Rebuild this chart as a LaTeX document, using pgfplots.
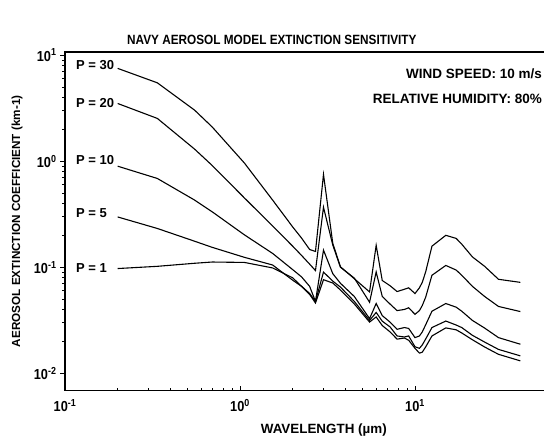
\documentclass[border=0pt]{standalone}
\usepackage{fontspec}
\setmainfont{Liberation Sans}
\newfontfamily\cond{Liberation Sans}[FakeStretch=0.88]
\usepackage{pgfplots}
\pgfplotsset{compat=1.18}

\pgfplotstableread{
x      p30    p20    p10    p5     p1
0.2    7.5    3.50   0.897  0.298  0.0972
0.3371 5.48   2.53   0.687  0.232  0.102
0.55   3.03   1.30   0.43   0.176  0.109
0.694  2.10   0.91   0.333  0.154  0.112
1.06   0.96   0.45   0.202  0.124  0.111
1.536  0.43   0.245  0.135  0.105  0.0985
2.0    0.24   0.158  0.095  0.0755 0.0795
2.25   0.188  0.129  0.081  0.066  0.066
2.5    0.147  0.107  0.066  0.0566 0.0555
2.7    0.141  0.093  0.0476 0.0476 0.046
3.0    0.75   0.368  0.145  0.090  0.0763
3.39   0.168  0.162  0.087  0.074  0.071
3.75   0.101  0.100  0.0706 0.065  0.061
4.5    0.078  0.079  0.053  0.0476 0.0451
5.5    0.0585 0.0468 0.0328 0.0315 0.0304
6.0    0.161  0.0903 0.0455 0.0375 0.034
6.5    0.075  0.053  0.035  0.031  0.0282
7.2    0.067  0.045  0.0304 0.0274 0.0246
7.9    0.059  0.039  0.026  0.0225 0.021
8.7    0.062  0.040  0.027  0.022  0.0215
9.2    0.064  0.0415 0.0265 0.0225 0.0205
10.0   0.0565 0.036  0.0217 0.0178 0.0172
10.6   0.064  0.039  0.0225 0.0172 0.0155
11.0   0.072  0.0435 0.0245 0.0185 0.0158
11.5   0.090  0.052  0.0286 0.021  0.0177
12.5   0.158  0.084  0.0385 0.027  0.0225
15.0   0.200  0.104  0.0455 0.0311 0.0268
17.2   0.187  0.094  0.042  0.0285 0.0257
18.5   0.165  0.084  0.0385 0.027  0.024
21.3   0.125  0.066  0.0315 0.0228 0.0207
25.0   0.102  0.053  0.0267 0.0197 0.0177
30.0   0.077  0.0427 0.0217 0.0168 0.0151
40.0   0.072  0.0382 0.0188 0.0146 0.0131
}\datatable

\begin{document}
\begin{tikzpicture}
\begin{axis}[
  name=ax,
  xmode=log, ymode=log,
  scale only axis,
  width=525pt, height=338.6pt,
  xmin=0.1, xmax=100, ymin=0.00687, ymax=10.7,
  xtick={0.1,1,10},
  xticklabels={10\textsuperscript{-1},10\textsuperscript{0},10\textsuperscript{1}},
  ytick={0.01,0.1,1,10},
  yticklabels={10\textsuperscript{-2},10\textsuperscript{-1},10\textsuperscript{0},10\textsuperscript{1}},
  xtick pos=left, ytick pos=left,
  xtick align=inside, ytick align=outside,
  major tick length=5pt, minor tick length=3pt,
  tick style={black, line width=0.8pt},
  axis line style={line width=1.3pt},
  ticklabel style={font=\cond\bfseries\fontsize{14.5}{16}\selectfont},
  xticklabel style={yshift=-5pt},
  title={NAVY AEROSOL MODEL EXTINCTION SENSITIVITY},
  title style={at={(axis description cs:0.394,1.018)}, anchor=center, font=\cond\bfseries\fontsize{13.4}{15}\selectfont},
  xlabel={WAVELENGTH (µm)},
  xlabel style={at={(axis description cs:0.493,-0.116)}, anchor=center, font=\bfseries\fontsize{13.4}{15}\selectfont},
  ylabel={AEROSOL EXTINCTION COEFFICIENT (km-1)},
  ylabel style={at={(axis description cs:-0.0914,0.5)}, rotate=0, anchor=center, font=\bfseries\fontsize{11.7}{14}\selectfont},
]
\addplot[black, line width=1.1pt] table[x=x, y=p30] {\datatable};
\addplot[black, line width=1.1pt] table[x=x, y=p20] {\datatable};
\addplot[black, line width=1.1pt] table[x=x, y=p10] {\datatable};
\addplot[black, line width=1.1pt] table[x=x, y=p5] {\datatable};
\addplot[black, line width=1.1pt] table[x=x, y=p1] {\datatable};

\node[anchor=west, inner sep=0pt, font=\bfseries\fontsize{13}{15}\selectfont] at (axis cs:0.1155,8.05) {P = 30};
\node[anchor=west, inner sep=0pt, font=\bfseries\fontsize{13}{15}\selectfont] at (axis cs:0.1155,3.52) {P = 20};
\node[anchor=west, inner sep=0pt, font=\bfseries\fontsize{13}{15}\selectfont] at (axis cs:0.1155,1.02) {P = 10};
\node[anchor=west, inner sep=0pt, font=\bfseries\fontsize{13}{15}\selectfont] at (axis cs:0.1155,0.323) {P = 5};
\node[anchor=west, inner sep=0pt, font=\bfseries\fontsize{13}{15}\selectfont] at (axis cs:0.1155,0.098) {P = 1};
\node[anchor=east, inner sep=0pt, font=\bfseries\fontsize{13.5}{16}\selectfont] at (axis cs:53.2,6.72) {WIND SPEED: 10 m/s};
\node[anchor=east, inner sep=0pt, font=\bfseries\fontsize{13.5}{16}\selectfont] at (axis cs:53.2,3.9) {RELATIVE HUMIDITY: 80\%};
\end{axis}
\pgfresetboundingbox
\path[use as bounding box] ([shift={(-65pt,-47.4pt)}]ax.south west) rectangle ([shift={(479pt,390.6pt)}]ax.south west);
\end{tikzpicture}
\end{document}
